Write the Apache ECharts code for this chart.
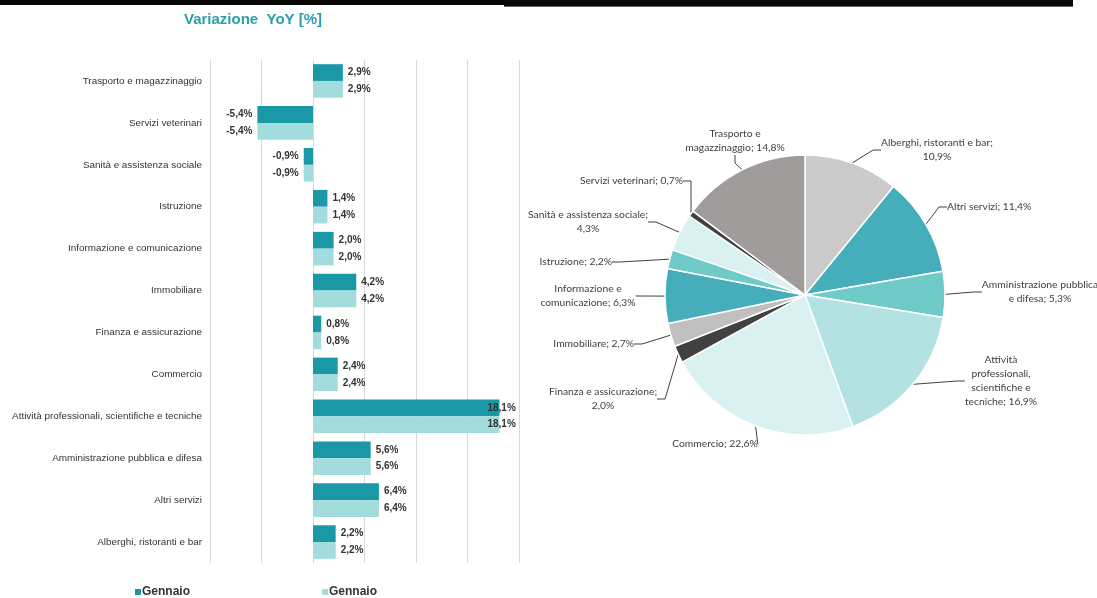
<!DOCTYPE html>
<html>
<head>
<meta charset="utf-8">
<script src="https://cdn.jsdelivr.net/npm/echarts@6/dist/echarts.min.js"></script>
<style>
  html, body { margin: 0; padding: 0; background: #fff; }
  #chart { width: 1097px; height: 598px; }
</style>
</head>
<body>
<div id="chart"></div>
<script>
// Year-on-year change by sector (left panel)
const sectors = [
  'Trasporto e magazzinaggio', 'Servizi veterinari', 'Sanità e assistenza sociale',
  'Istruzione', 'Informazione e comunicazione', 'Immobiliare', 'Finanza e assicurazione',
  'Commercio', 'Attività professionali, scientifiche e tecniche',
  'Amministrazione pubblica e difesa', 'Altri servizi', 'Alberghi, ristoranti e bar'
];
const yoyDark  = [2.9, -5.4, -0.9, 1.4, 2.0, 4.2, 0.8, 2.4, 18.1, 5.6, 6.4, 2.2];
const yoyLight = [2.9, -5.4, -0.9, 1.4, 2.0, 4.2, 0.8, 2.4, 18.1, 5.6, 6.4, 2.2];
const xTicks = { min: -10, max: 20, step: 5 };

// Share by sector (right panel), clockwise from 12 o'clock
const pieNames = [
  'Alberghi, ristoranti e bar', 'Altri servizi', 'Amministrazione pubblica e difesa',
  'Attività professionali, scientifiche e tecniche', 'Commercio', 'Finanza e assicurazione',
  'Immobiliare', 'Informazione e comunicazione', 'Istruzione', 'Sanità e assistenza sociale',
  'Servizi veterinari', 'Trasporto e magazzinaggio'
];
const pieShares = [10.9, 11.4, 5.3, 16.9, 22.6, 2.0, 2.7, 6.3, 2.2, 4.3, 0.7, 14.8];

// Wrapped label text for the pie (line breaks inside names, value on a new line)
const pieWrapped = {
  'Amministrazione pubblica e difesa': 'Amministrazione pubblica\ne difesa',
  'Attività professionali, scientifiche e tecniche': 'Attività\nprofessionali,\nscientifiche e\ntecniche',
  'Informazione e comunicazione': 'Informazione e\ncomunicazione',
  'Trasporto e magazzinaggio': 'Trasporto e\nmagazzinaggio'
};
const valueOnNewLine = ['Alberghi, ristoranti e bar', 'Finanza e assicurazione', 'Sanità e assistenza sociale'];

const pieColors = ['#cbcbcb', '#46adba', '#70cac8', '#b4e2e2', '#daf1f2', '#414141',
                   '#c0bebe', '#46adba', '#70cac8', '#daf1f2', '#414141', '#a09c9c'];

// Label anchor points for the pie labels: [x, y, align]
const pieLabelSpots = [
  [937, 150, 'center'], [947, 207, 'left'], [1040, 292, 'center'], [1001, 381, 'center'],
  [715, 444, 'center'], [603, 399, 'center'], [634, 344, 'right'], [588, 296, 'center'],
  [612, 262, 'right'], [588, 222, 'center'], [683, 181, 'right'], [735, 141, 'center']
];

const fmtPct = v => v.toFixed(1).replace('.', ',') + '%';

function barData(values) {
  return values.map(v => ({
    value: v,
    label: {
      position: v < 0 ? 'left' : 'right',
      offset: v > 15 ? [-17, 0] : [0, 0]
    }
  }));
}

const barLabel = {
  show: true,
  distance: 5,
  fontFamily: 'Liberation Sans, Arial, sans-serif',
  fontSize: 10,
  fontWeight: 'bold',
  color: '#333',
  formatter: p => fmtPct(p.value)
};

const legendBase = {
  top: 586,
  padding: 0,
  icon: 'rect',
  itemWidth: 6,
  itemHeight: 6,
  itemGap: 4,
  selectedMode: false,
  formatter: n => n.trim(),
  textStyle: { fontFamily: 'Liberation Sans, Arial, sans-serif', fontSize: 12, fontWeight: 'bold', color: '#333', padding: [0, 0, 0, -4] }
};

const chart = echarts.init(document.getElementById('chart'), null, { renderer: 'canvas' });

chart.setOption({
  animation: false,
  backgroundColor: '#fff',
  graphic: [
    { type: 'rect', shape: { x: 0, y: 0, width: 504, height: 5 }, style: { fill: '#080808' }, silent: true },
    { type: 'rect', shape: { x: 504, y: 0, width: 569, height: 6 }, style: { fill: '#080808' }, silent: true },
    { type: 'rect', shape: { x: 504, y: 6, width: 569, height: 1 }, style: { fill: '#666' }, silent: true },
    {
      type: 'text', left: 184, top: 12,
      style: {
        text: 'Variazione  YoY [%]',
        fontFamily: 'Liberation Sans, Arial, sans-serif',
        fontSize: 15, fontWeight: 'bold', fill: '#2a9fa9'
      }
    }
  ],
  legend: [
    Object.assign({}, legendBase, { left: 135, data: ['Gennaio'] }),
    Object.assign({}, legendBase, { left: 322, data: ['Gennaio '] })
  ],
  grid: { left: 210, right: 578, top: 60, bottom: 35 },
  xAxis: {
    type: 'value',
    min: xTicks.min, max: xTicks.max, interval: xTicks.step,
    axisLabel: { show: false },
    axisLine: { show: false },
    axisTick: { show: false },
    splitLine: { show: true, lineStyle: { color: '#d9d9d9', width: 1 } }
  },
  yAxis: {
    type: 'category',
    inverse: true,
    data: sectors,
    axisLine: { show: false, onZero: false },
    axisTick: { show: false },
    axisLabel: {
      margin: 8,
      fontFamily: 'Liberation Sans, Arial, sans-serif',
      fontSize: 9.9,
      color: '#333'
    }
  },
  series: [
    {
      name: 'Gennaio', type: 'bar',
      data: barData(yoyDark),
      itemStyle: { color: '#1a98a6' },
      barGap: '0%', barCategoryGap: '20%',
      label: barLabel
    },
    {
      name: 'Gennaio ', type: 'bar',
      data: barData(yoyLight),
      itemStyle: { color: '#a2dcdc' },
      barGap: '0%', barCategoryGap: '20%',
      label: barLabel
    },
    {
      type: 'pie',
      center: [805, 295],
      radius: 140,
      startAngle: 90,
      clockwise: true,
      data: pieNames.map((n, i) => ({ name: n, value: pieShares[i], itemStyle: { color: pieColors[i] } })),
      itemStyle: { borderColor: '#fff', borderWidth: 1.5 },
      label: {
        show: true,
        position: 'outside',
        fontFamily: 'Lato, Open Sans, sans-serif',
        fontSize: 10.3,
        lineHeight: 14,
        color: '#404040',
        align: 'center',
        formatter: p => {
          const name = pieWrapped[p.name] || p.name;
          const sep = valueOnNewLine.includes(p.name) ? ';\n' : '; ';
          return name + sep + fmtPct(p.value);
        }
      },
      labelLine: { show: true, length: 8, length2: 8, lineStyle: { color: '#404040', width: 1 } },
      labelLayout: p => {
        const s = pieLabelSpots[p.dataIndex];
        return { x: s[0], y: s[1], align: s[2], verticalAlign: 'middle' };
      }
    }
  ]
});
</script>
</body>
</html>
